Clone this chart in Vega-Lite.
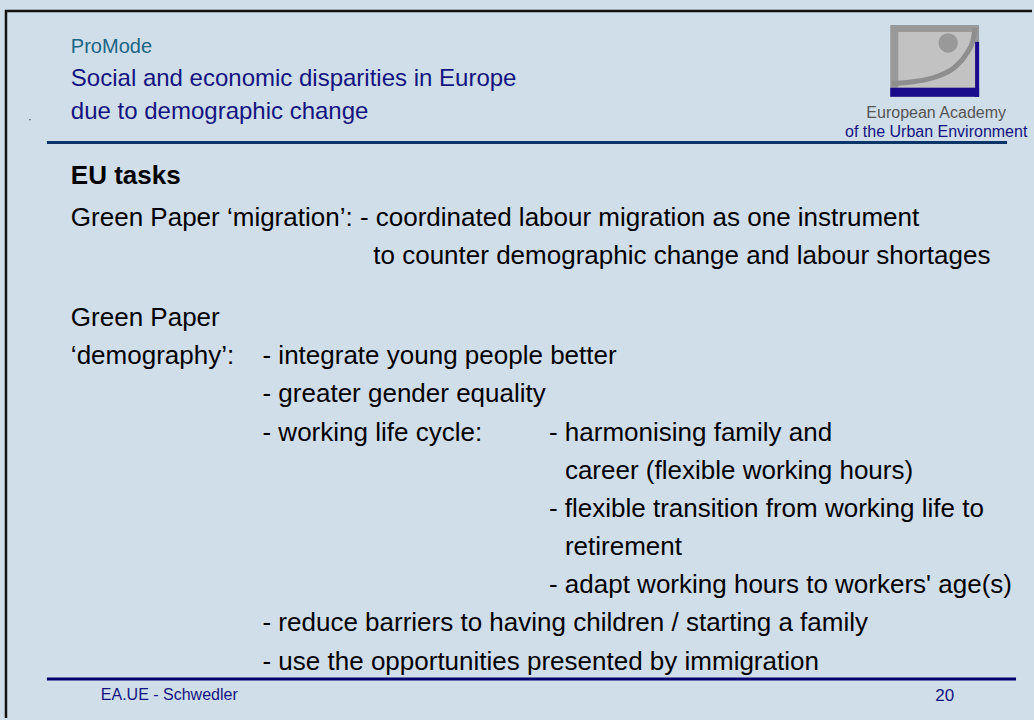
{
  "$schema": "https://vega.github.io/schema/vega-lite/v6.json",
  "width": 1034,
  "height": 720,
  "autosize": {"type": "fit", "contains": "padding"},
  "padding": 0,
  "background": "#D0DEEA",
  "config": {"view": {"stroke": null}, "axis": {"disable": true}},
  "datasets": {
    "lines": [
      {"name": "frame-left", "x": 6, "x2": 6, "y": 10, "y2": 720, "c": "#111111", "w": 2.5},
      {"name": "frame-top", "x": 5, "x2": 1034, "y": 11, "y2": 11, "c": "#111111", "w": 2.5},
      {"name": "header", "x": 47, "x2": 1009, "y": 143, "y2": 143, "c": "#0B3468", "w": 3},
      {"name": "footer", "x": 47, "x2": 1018, "y": 681, "y2": 681, "c": "#00006E", "w": 3}
    ],
    "logo": [
      {"part": "a-outer", "x": 892, "x2": 981, "y": 25, "y2": 97, "c": "#999999"},
      {"part": "b-inner", "x": 900, "x2": 977, "y": 32, "y2": 88, "c": "#C2C2C2"},
      {"part": "c-bottom", "x": 892, "x2": 981, "y": 88, "y2": 97, "c": "#1A0A8C"},
      {"part": "d-right", "x": 977, "x2": 981, "y": 42, "y2": 97, "c": "#1A0A8C"}
    ],
    "arc": [
      {"i": 1, "x": 893, "y": 84},
      {"i": 2, "x": 915, "y": 82},
      {"i": 3, "x": 938, "y": 77},
      {"i": 4, "x": 957, "y": 67},
      {"i": 5, "x": 969, "y": 53},
      {"i": 6, "x": 975, "y": 40},
      {"i": 7, "x": 977, "y": 28}
    ],
    "dots": [
      {"x": 950, "y": 43, "s": 380, "c": "#999999"},
      {"x": 30, "y": 120, "s": 2, "c": "#222222"}
    ],
    "texts": [
      {"t": "ProMode", "x": 71, "y": 53, "s": 20, "c": "#1B6585"},
      {"t": "Social and economic disparities in Europe", "x": 71, "y": 86, "s": 24, "c": "#141480"},
      {"t": "due to demographic change", "x": 71, "y": 119, "s": 24, "c": "#141480"},
      {"t": "Green Paper ‘migration’: - coordinated labour migration as one instrument", "x": 71, "y": 227, "s": 26, "c": "#000000"},
      {"t": "to counter demographic change and labour shortages", "x": 374, "y": 265, "s": 26, "c": "#000000"},
      {"t": "Green Paper", "x": 71, "y": 327, "s": 26, "c": "#000000"},
      {"t": "‘demography’:", "x": 71, "y": 365, "s": 26, "c": "#000000"},
      {"t": "- integrate young people better", "x": 263, "y": 365, "s": 26, "c": "#000000"},
      {"t": "- greater gender equality", "x": 263, "y": 403, "s": 26, "c": "#000000"},
      {"t": "- working life cycle:", "x": 263, "y": 442, "s": 26, "c": "#000000"},
      {"t": "- harmonising family and", "x": 550, "y": 442, "s": 26, "c": "#000000"},
      {"t": "career (flexible working hours)", "x": 566, "y": 480, "s": 26, "c": "#000000"},
      {"t": "- flexible transition from working life to", "x": 550, "y": 518, "s": 26, "c": "#000000"},
      {"t": "retirement", "x": 566, "y": 557, "s": 26, "c": "#000000"},
      {"t": "- adapt working hours to workers' age(s)", "x": 550, "y": 595, "s": 26, "c": "#000000"},
      {"t": "- reduce barriers to having children / starting a family", "x": 263, "y": 633, "s": 26, "c": "#000000"},
      {"t": "- use the opportunities presented by immigration", "x": 263, "y": 672, "s": 26, "c": "#000000"},
      {"t": "EA.UE - Schwedler", "x": 101, "y": 702, "s": 16, "c": "#141480"},
      {"t": "20", "x": 937, "y": 703, "s": 17, "c": "#141480"}
    ],
    "bold": [
      {"t": "EU tasks", "x": 71, "y": 185, "s": 26, "c": "#000000"}
    ],
    "centered": [
      {"t": "European Academy", "x": 938, "y": 118, "s": 16, "c": "#555555"},
      {"t": "of the Urban Environment", "x": 938, "y": 137, "s": 16, "c": "#141480"}
    ]
  },
  "layer": [
    {
      "data": {"name": "logo"},
      "mark": {"type": "rect"},
      "encoding": {
        "x": {"field": "x", "type": "quantitative", "scale": {"domain": [0, 1034]}, "axis": null},
        "x2": {"field": "x2"},
        "y": {"field": "y", "type": "quantitative", "scale": {"domain": [0, 720], "reverse": true}, "axis": null},
        "y2": {"field": "y2"},
        "color": {"field": "c", "type": "nominal", "scale": null}
      }
    },
    {
      "data": {"name": "arc"},
      "mark": {"type": "line", "stroke": "#8E8E8E", "strokeWidth": 5, "interpolate": "monotone"},
      "encoding": {
        "x": {"field": "x", "type": "quantitative", "scale": {"domain": [0, 1034]}, "axis": null},
        "y": {"field": "y", "type": "quantitative", "scale": {"domain": [0, 720], "reverse": true}, "axis": null},
        "order": {"field": "i"}
      }
    },
    {
      "data": {"name": "dots"},
      "mark": {"type": "circle", "opacity": 1},
      "encoding": {
        "x": {"field": "x", "type": "quantitative", "scale": {"domain": [0, 1034]}, "axis": null},
        "y": {"field": "y", "type": "quantitative", "scale": {"domain": [0, 720], "reverse": true}, "axis": null},
        "size": {"field": "s", "type": "quantitative", "scale": null},
        "color": {"field": "c", "type": "nominal", "scale": null}
      }
    },
    {
      "data": {"name": "lines"},
      "mark": {"type": "rule"},
      "encoding": {
        "x": {"field": "x", "type": "quantitative", "scale": {"domain": [0, 1034]}, "axis": null},
        "x2": {"field": "x2"},
        "y": {"field": "y", "type": "quantitative", "scale": {"domain": [0, 720], "reverse": true}, "axis": null},
        "y2": {"field": "y2"},
        "color": {"field": "c", "type": "nominal", "scale": null},
        "strokeWidth": {"field": "w", "type": "quantitative", "scale": null}
      }
    },
    {
      "data": {"name": "texts"},
      "mark": {"type": "text", "align": "left", "baseline": "alphabetic", "font": "Liberation Sans"},
      "encoding": {
        "x": {"field": "x", "type": "quantitative", "scale": {"domain": [0, 1034]}, "axis": null},
        "y": {"field": "y", "type": "quantitative", "scale": {"domain": [0, 720], "reverse": true}, "axis": null},
        "text": {"field": "t"},
        "size": {"field": "s", "type": "quantitative", "scale": null},
        "color": {"field": "c", "type": "nominal", "scale": null}
      }
    },
    {
      "data": {"name": "bold"},
      "mark": {"type": "text", "align": "left", "baseline": "alphabetic", "font": "Liberation Sans", "fontWeight": "bold"},
      "encoding": {
        "x": {"field": "x", "type": "quantitative", "scale": {"domain": [0, 1034]}, "axis": null},
        "y": {"field": "y", "type": "quantitative", "scale": {"domain": [0, 720], "reverse": true}, "axis": null},
        "text": {"field": "t"},
        "size": {"field": "s", "type": "quantitative", "scale": null},
        "color": {"field": "c", "type": "nominal", "scale": null}
      }
    },
    {
      "data": {"name": "centered"},
      "mark": {"type": "text", "align": "center", "baseline": "alphabetic", "font": "Liberation Sans"},
      "encoding": {
        "x": {"field": "x", "type": "quantitative", "scale": {"domain": [0, 1034]}, "axis": null},
        "y": {"field": "y", "type": "quantitative", "scale": {"domain": [0, 720], "reverse": true}, "axis": null},
        "text": {"field": "t"},
        "size": {"field": "s", "type": "quantitative", "scale": null},
        "color": {"field": "c", "type": "nominal", "scale": null}
      }
    }
  ]
}
